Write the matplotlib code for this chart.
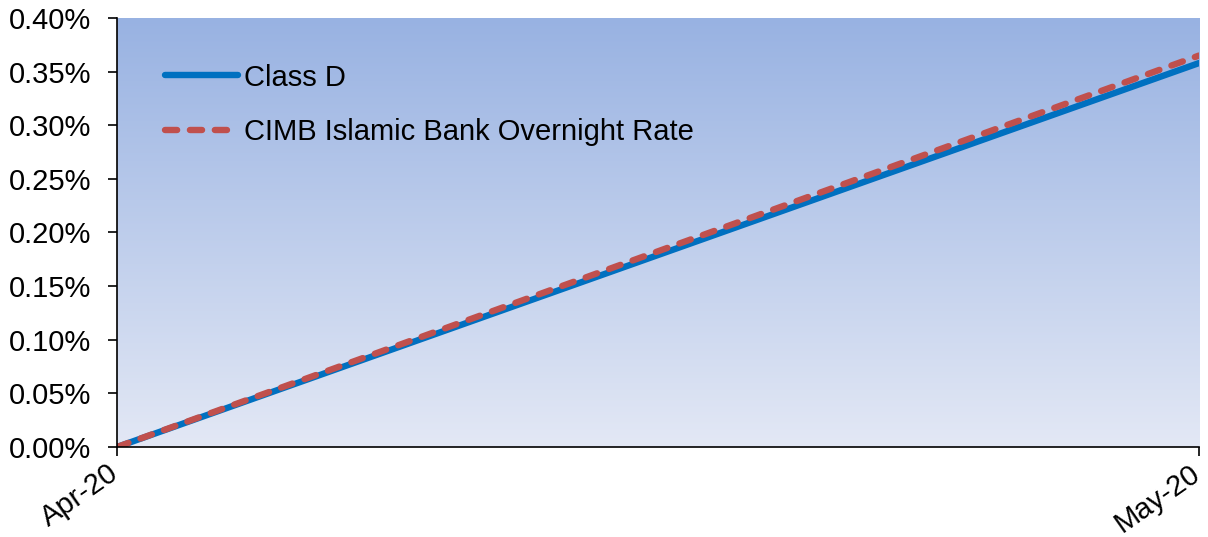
import matplotlib.pyplot as plt
import matplotlib.transforms as mtransforms
import numpy as np
from matplotlib.colors import LinearSegmentedColormap
from matplotlib.ticker import FuncFormatter

plt.rcParams['font.family'] = ['Liberation Sans', 'DejaVu Sans']

# data
dates = ['Apr-20', 'May-20']
class_d = [0.0, 0.358]
cimb_rate = [0.0, 0.365]

fig = plt.figure(figsize=(12.08, 5.37), dpi=100)
ax = fig.add_axes([0.0969, 0.1676, 0.8957, 0.7989])

# gradient background
cmap = LinearSegmentedColormap.from_list('bg', ['#e3e8f5', '#98b2e2'])
grad = np.linspace(0, 1, 256).reshape(-1, 1)
ax.imshow(grad, cmap=cmap, aspect='auto', origin='lower',
          extent=[0, 1, 0, 1], transform=ax.transAxes, zorder=0)

x = np.arange(len(dates))
ax.plot(x, class_d, color='#0070c0', linewidth=4.6, label='Class D',
        solid_capstyle='round', zorder=3)
ax.plot(x, cimb_rate, color='#c0504d', linewidth=4.6, linestyle=(0, (1.9, 2.0)),
        dash_capstyle='round', label='CIMB Islamic Bank Overnight Rate', zorder=4)

ax.set_xlim(0, 1)
ax.set_ylim(0, 0.4)
ax.set_yticks(np.arange(0, 0.41, 0.05))
ax.yaxis.set_major_formatter(FuncFormatter(lambda v, p: f'{v:.2f}%'))
ax.set_xticks(x)
ax.set_xticklabels(dates, rotation=35, ha='right', va='top', rotation_mode='anchor')

ax.tick_params(axis='both', labelsize=21, length=6.5, width=1.2, color='black')
ax.tick_params(axis='y', pad=12)
ax.tick_params(axis='x', pad=8)

# nudge the rotated date labels so their end sits at the tick
shift = mtransforms.ScaledTranslation(-0.10, 0.08, fig.dpi_scale_trans)
for lbl in ax.get_xticklabels():
    lbl.set_transform(lbl.get_transform() + shift)

for s in ['top', 'right']:
    ax.spines[s].set_visible(False)
for s in ['left', 'bottom']:
    ax.spines[s].set_linewidth(1.2)
    ax.spines[s].set_zorder(5)

leg = ax.legend(loc='upper left', bbox_to_anchor=(0.020, 0.955), frameon=False,
                fontsize=21, handlelength=2.5, handletextpad=0.2, labelspacing=0.9)

fig.savefig('out.png', dpi=100)
